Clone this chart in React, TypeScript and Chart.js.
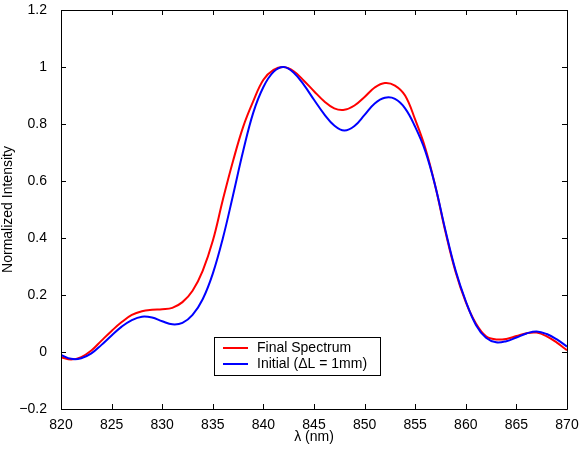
import React, { useEffect, useRef } from "react";
import { Chart, registerables } from "chart.js";

Chart.register(...registerables);

const wavelengths = [
  820, 821, 822, 823, 824, 825, 826, 827, 828, 829,
  830, 831, 832, 833, 834, 835, 836, 837, 838, 839,
  840, 841, 842, 843, 844, 845, 846, 847, 848, 849,
  850, 851, 852, 853, 854, 855, 856, 857, 858, 859,
  860, 861, 862, 863, 864, 865, 866, 867, 868, 869, 870,
];

const finalSpectrum = [
  -0.018, -0.026, -0.018, 0.005, 0.04, 0.074, 0.105, 0.13, 0.143, 0.148,
  0.15, 0.155, 0.175, 0.215, 0.285, 0.39, 0.535, 0.67, 0.79, 0.88,
  0.955, 0.99, 1.0, 0.985, 0.952, 0.915, 0.88, 0.855, 0.85, 0.865,
  0.895, 0.928, 0.944, 0.935, 0.9, 0.815, 0.715, 0.58, 0.42, 0.28,
  0.175, 0.1, 0.055, 0.044, 0.046, 0.056, 0.066, 0.068, 0.055, 0.033, 0.006,
];

const initialSpectrum = [
  -0.01, -0.024, -0.022, -0.005, 0.025, 0.058, 0.089, 0.112, 0.124, 0.121,
  0.108, 0.097, 0.102, 0.13, 0.185, 0.275, 0.4, 0.55, 0.705, 0.84,
  0.93, 0.983, 1.0, 0.98, 0.937, 0.885, 0.835, 0.795, 0.777, 0.793,
  0.832, 0.872, 0.892, 0.888, 0.855, 0.79, 0.705, 0.58, 0.425, 0.285,
  0.178, 0.095, 0.05, 0.034, 0.038, 0.051, 0.065, 0.072, 0.063, 0.044, 0.019,
];

const seriesLabels = ["Final Spectrum", "Initial (\u0394L = 1mm)"];
const xTitle = "\u03bb (nm)";
const yTitle = "Normalized Intensity";

const FONT = "'Liberation Sans', Arial, Helvetica, sans-serif";

const framePlugin = {
  id: "frameTicks",
  afterDraw(chart: any) {
    const { ctx, chartArea } = chart;
    const { left, right, top, bottom } = chartArea;
    const xs = chart.scales.x;
    const ys = chart.scales.y;
    ctx.save();
    ctx.strokeStyle = "#000";
    ctx.lineWidth = 1;
    ctx.beginPath();
    ctx.rect(Math.round(left) + 0.5, Math.round(top) + 0.5, Math.round(right - left), Math.round(bottom - top));
    ctx.stroke();
    const tl = 5;
    ctx.beginPath();
    xs.ticks.forEach((t: any) => {
      const p = Math.round(xs.getPixelForValue(t.value)) + 0.5;
      ctx.moveTo(p, bottom);
      ctx.lineTo(p, bottom - tl);
      ctx.moveTo(p, top);
      ctx.lineTo(p, top + tl);
    });
    ys.ticks.forEach((t: any) => {
      const p = Math.round(ys.getPixelForValue(t.value)) + 0.5;
      ctx.moveTo(left, p);
      ctx.lineTo(left + tl, p);
      ctx.moveTo(right, p);
      ctx.lineTo(right - tl, p);
    });
    ctx.stroke();

    // legend
    const bx = 214, by = 337, bw = 166, bh = 38;
    ctx.fillStyle = "#fff";
    ctx.fillRect(bx, by, bw, bh);
    ctx.strokeStyle = "#000";
    ctx.strokeRect(bx + 0.5, by + 0.5, bw, bh);
    const ds = chart.data.datasets;
    const rows = [348, 364];
    ds.forEach((d: any, i: number) => {
      ctx.strokeStyle = d.borderColor;
      ctx.lineWidth = 2;
      ctx.beginPath();
      ctx.moveTo(223, rows[i]);
      ctx.lineTo(248, rows[i]);
      ctx.stroke();
      ctx.fillStyle = "#000";
      ctx.font = `14px ${FONT}`;
      ctx.textBaseline = "middle";
      ctx.textAlign = "left";
      ctx.fillText(d.label, 257, rows[i]);
    });
    ctx.restore();
  },
};

const zeroPad = (scale: any) => {
  scale.paddingLeft = 0;
  scale.paddingRight = 0;
  scale.paddingTop = 0;
  scale.paddingBottom = 0;
};

export default function App() {
  const ref = useRef<HTMLCanvasElement>(null);
  useEffect(() => {
    if (!ref.current) return;
    const chart = new Chart(ref.current, {
      type: "line",
      data: {
        datasets: [
          {
            label: seriesLabels[0],
            data: wavelengths.map((w, i) => ({ x: w, y: finalSpectrum[i] })),
            borderColor: "#ff0000",
            borderWidth: 2,
            pointRadius: 0,
            tension: 0.4,
            fill: false,
            order: 1,
          },
          {
            label: seriesLabels[1],
            data: wavelengths.map((w, i) => ({ x: w, y: initialSpectrum[i] })),
            borderColor: "#0000ff",
            borderWidth: 2,
            pointRadius: 0,
            tension: 0.4,
            fill: false,
            order: 0,
          },
        ],
      },
      options: {
        animation: false,
        responsive: false,
        layout: { padding: { left: 0, top: 10, right: 12, bottom: 0 } },
        plugins: { legend: { display: false }, tooltip: { enabled: false } },
        scales: {
          x: {
            type: "linear",
            min: 820,
            max: 870,
            grid: { display: false },
            border: { display: false },
            ticks: {
              stepSize: 5,
              padding: 0,
              color: "#000",
              font: { family: FONT, size: 14 },
              maxRotation: 0,
            },
            title: {
              display: true,
              text: xTitle,
              color: "#000",
              font: { family: FONT, size: 14 },
              padding: { top: 0, bottom: 4 },
            },
            afterFit(scale: any) {
              scale.height = 41;
              zeroPad(scale);
            },
          },
          y: {
            type: "linear",
            min: -0.2,
            max: 1.2,
            grid: { display: false },
            border: { display: false },
            ticks: {
              stepSize: 0.2,
              padding: 6,
              color: "#000",
              font: { family: FONT, size: 14 },
              callback: (v: any) => {
                const r = Math.round(Number(v) * 10) / 10;
                return r < 0 ? "\u2212" + String(-r) : String(r);
              },
            },
            title: {
              display: true,
              text: yTitle,
              color: "#000",
              font: { family: FONT, size: 14 },
              padding: { top: 0, bottom: 0 },
            },
            afterFit(scale: any) {
              scale.width = 61;
              zeroPad(scale);
            },
          },
        },
      },
      plugins: [framePlugin],
    } as any);
    return () => chart.destroy();
  }, []);
  return (
    <div style={{ position: "absolute", left: 0, top: 0, width: 579, height: 450, background: "#fff" }}>
      <canvas ref={ref} width={579} height={450} />
    </div>
  );
}
